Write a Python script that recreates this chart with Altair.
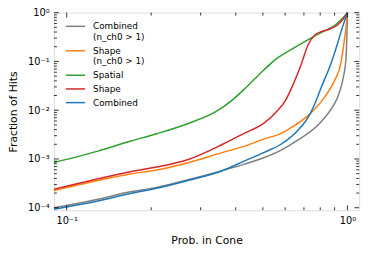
import altair as alt
import pandas as pd

# ---- data ----
names = ["Combined\n(n_ch0 > 1)", "Shape\n(n_ch0 > 1)", "Spatial", "Shape", "Combined"]
colors = ["#7f7f7f", "#ff7f0e", "#2ca02c", "#d62728", "#1f77b4"]

p_gray = [0.0901, 0.1293, 0.1684, 0.2092, 0.2725, 0.358, 0.4305, 0.5056, 0.578, 0.6694, 0.797, 0.899, 0.923, 0.961, 0.9865, 0.997, 1.0]
f_gray = [1.0e-4, 1.50e-4, 2.12e-4, 2.62e-4, 3.79e-4, 5.75e-4, 7.84e-4, 1.07e-3, 1.5e-3, 2.49e-3, 5.40e-3, 0.0136, 0.0185, 0.0401, 0.101, 0.45, 1.0]

p_orange = [0.0901, 0.1293, 0.1684, 0.2092, 0.2725, 0.358, 0.4305, 0.5056, 0.578, 0.618, 0.7356, 0.8295, 0.899, 0.9477, 0.9684, 0.9944, 1.0]
f_orange = [2.25e-4, 3.62e-4, 4.94e-4, 5.94e-4, 8.49e-4, 1.35e-3, 1.83e-3, 2.58e-3, 3.3e-3, 4.1e-3, 8.4e-3, 0.0185, 0.0401, 0.0922, 0.203, 0.697, 1.0]

p_green = [0.0901, 0.1293, 0.1684, 0.2092, 0.2725, 0.3385, 0.388, 0.4238, 0.4667, 0.5056, 0.548, 0.643, 0.7254, 0.774, 0.807, 0.8635, 0.899, 0.9454, 0.97, 1.0]
f_green = [8.5e-4, 1.45e-3, 2.31e-3, 3.29e-3, 5.41e-3, 9.25e-3, 0.0159, 0.0252, 0.0434, 0.068, 0.104, 0.187, 0.28, 0.345, 0.39, 0.475, 0.545, 0.697, 0.81, 1.0]

p_red = [0.0901, 0.1293, 0.1684, 0.2092, 0.2725, 0.358, 0.4305, 0.5056, 0.561, 0.6018, 0.6263, 0.679, 0.7254, 0.7655, 0.807, 0.8745, 0.9477, 1.0]
f_red = [2.39e-4, 3.92e-4, 5.49e-4, 6.83e-4, 9.89e-4, 1.98e-3, 3.40e-3, 5.5e-3, 9.5e-3, 0.0159, 0.0252, 0.0767, 0.222, 0.348, 0.406, 0.472, 0.644, 1.0]

p_blue = [0.0901, 0.1293, 0.1684, 0.2092, 0.2725, 0.358, 0.4305, 0.5056, 0.578, 0.659, 0.7356, 0.7655, 0.807, 0.8745, 0.923, 0.961, 1.0]
f_blue = [9.33e-5, 1.37e-4, 1.96e-4, 2.50e-4, 3.65e-4, 5.75e-4, 9.14e-4, 1.37e-3, 1.98e-3, 3.61e-3, 8.3e-3, 0.0136, 0.0294, 0.0922, 0.236, 0.511, 1.0]

x_major = [0.1, 1.0]
x_minor = [0.2, 0.3, 0.4, 0.5, 0.6, 0.7, 0.8, 0.9]
y_major = [1e-4, 1e-3, 1e-2, 1e-1, 1.0]
y_minor = [k * 10.0 ** e for e in range(-4, 0) for k in range(2, 10)]
x_labels = ["10\u207b\u00b9", "10\u2070"]
y_labels = ["10\u207b\u2074", "10\u207b\u00b3", "10\u207b\u00b2", "10\u207b\u00b9", "10\u2070"]

# ---- build tables ----
series = [(names[0], p_gray, f_gray), (names[1], p_orange, f_orange), (names[2], p_green, f_green),
          (names[3], p_red, f_red), (names[4], p_blue, f_blue)]
rows = []
for name, ps, fs in series:
    for i, (p, f) in enumerate(zip(ps, fs)):
        rows.append({"series": name, "p": p, "f": f, "i": i})
df = pd.DataFrame(rows)

W, H = 312, 202
XDOM = [0.0901, 1.101]
YDOM = [8.9e-5, 1.0]
FONT = "DejaVu Sans"

xs = alt.Scale(type="log", domain=XDOM, nice=False)
ys = alt.Scale(type="log", domain=YDOM, nice=False)

xlab_expr = "datum.value < 0.5 ? '%s' : '%s'" % (x_labels[0], x_labels[1])
ylab_expr = "[" + ",".join("'%s'" % s for s in y_labels) + "][round(log(datum.value)/LN10)+4]"

xaxis = alt.Axis(values=x_major, labelExpr=xlab_expr, ticks=False, tickSize=0, domain=False, grid=False,
                 labelFontSize=10, labelPadding=6, titleFontSize=11, titlePadding=9,
                 titleFontWeight="normal", labelFont=FONT, titleFont=FONT, labelColor="black",
                 titleColor="black", labelFlush=False)
yaxis = alt.Axis(values=y_major, labelExpr=ylab_expr, ticks=False, tickSize=0, domain=False, grid=False,
                 labelFontSize=10, labelPadding=5, titleFontSize=11, titlePadding=9,
                 titleFontWeight="normal", labelFont=FONT, titleFont=FONT, labelColor="black",
                 titleColor="black", labelFlush=False)
XT = "Prob. in Cone"
YT = "Fraction of Hits"

lines = alt.Chart(df).mark_line(strokeWidth=1.5, interpolate="monotone").encode(
    x=alt.X("p:Q", scale=xs, title=XT, axis=xaxis),
    y=alt.Y("f:Q", scale=ys, title=YT, axis=yaxis),
    color=alt.Color("series:N", scale=alt.Scale(domain=names, range=colors),
                    legend=alt.Legend(title=None, orient="none", legendX=14, legendY=6,
                                      symbolType="M-1.4,0H1.4", symbolStrokeWidth=1.5, symbolSize=196,
                                      labelFontSize=9, labelFont=FONT, labelColor="black", labelOffset=10,
                                      labelLimit=200, rowPadding=1, padding=0,
                                      labelExpr="split(datum.label, '\\n')")),
    order="i:Q",
)

def xticks(vals, length):
    d = pd.DataFrame({"p": vals})
    bot = alt.Chart(d).mark_rule(color="black", strokeWidth=0.8).encode(
        x=alt.X("p:Q", scale=xs, title=XT, axis=xaxis), y=alt.value(H), y2=alt.value(H - length))
    top = alt.Chart(d).mark_rule(color="black", strokeWidth=0.8).encode(
        x=alt.X("p:Q", scale=xs, title=XT, axis=xaxis), y=alt.value(0), y2=alt.value(length))
    return [bot, top]

def yticks(vals, length):
    d = pd.DataFrame({"f": vals})
    left = alt.Chart(d).mark_rule(color="black", strokeWidth=0.8).encode(
        y=alt.Y("f:Q", scale=ys, title=YT, axis=yaxis), x=alt.value(0), x2=alt.value(length))
    right = alt.Chart(d).mark_rule(color="black", strokeWidth=0.8).encode(
        y=alt.Y("f:Q", scale=ys, title=YT, axis=yaxis), x=alt.value(W), x2=alt.value(W - length))
    return [left, right]

layers = [lines] + xticks(x_major, 5) + xticks(x_minor, 3) + yticks(y_major, 5) + yticks(y_minor, 3)

chart = alt.layer(*layers).properties(
    width=W, height=H,
    autosize=alt.AutoSizeParams(type="none"),
    padding={"left": 47, "top": 2, "right": 7, "bottom": 41},
).configure_view(stroke="black", strokeWidth=1).configure(background="white")

chart.save("out.html", embed_options={"renderer": "svg", "actions": False})
